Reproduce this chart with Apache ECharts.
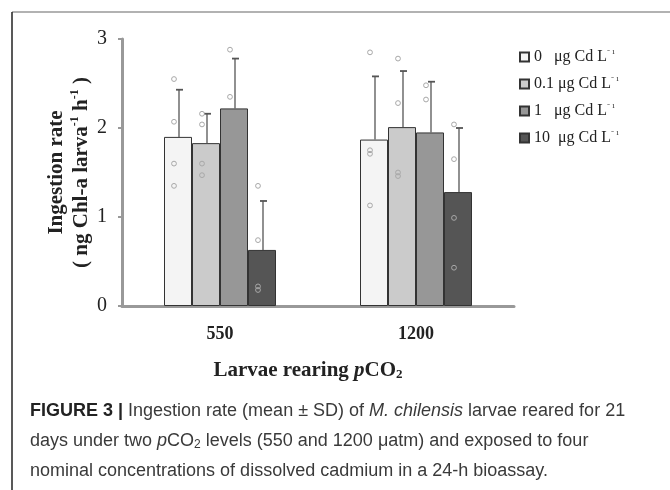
<!DOCTYPE html>
<html>
<head>
<meta charset="utf-8">
<script src="https://cdn.jsdelivr.net/npm/echarts@6/dist/echarts.min.js"></script>
<style>
  html, body { margin: 0; padding: 0; background: #fff; }
  #chart { width: 670px; height: 490px; }
</style>
</head>
<body>
<div id="chart"></div>
<script>
// data
const categories = ['550', '1200'];
const cdLevels = ['0   μg Cd L', '0.1 μg Cd L', '1   μg Cd L', '10  μg Cd L'];
const barColors = ['#f4f4f4', '#cbcbcb', '#979797', '#555555'];

// mean per Cd level, for [550, 1200]
const mean0 = [1.90, 1.87];
const mean01 = [1.83, 2.01];
const mean1 = [2.22, 1.95];
const mean10 = [0.63, 1.28];

// mean + SD (top of error bar)
const sdTop0 = [2.43, 2.58];
const sdTop01 = [2.16, 2.64];
const sdTop1 = [2.78, 2.52];
const sdTop10 = [1.18, 2.00];

// individual replicates (open circles)
const reps0 = [[2.55, 2.07, 1.60, 1.35], [2.85, 1.75, 1.71, 1.13]];
const reps01 = [[2.16, 2.04, 1.60, 1.47], [2.78, 2.28, 1.50, 1.46]];
const reps1 = [[2.88, 2.35], [2.48, 2.32]];
const reps10 = [[1.35, 0.74, 0.22, 0.18], [2.04, 1.65, 0.99, 0.43]];

const yTicks = [0, 1, 2, 3];

const means = [mean0, mean01, mean1, mean10];
const sdTops = [sdTop0, sdTop01, sdTop1, sdTop10];
const reps = [reps0, reps01, reps1, reps10];

const BAR_W = 28;
const serif = '"Liberation Serif", "Times New Roman", serif';
const sans = '"Liberation Sans", Arial, sans-serif';

// error bar data: [cat, level, mean, top]
const errData = [];
const pointData = [];
means.forEach(function (m, g) {
  m.forEach(function (v, c) {
    errData.push([c, g, v, sdTops[g][c]]);
    reps[g][c].forEach(function (r) {
      pointData.push([c, g, r]);
    });
  });
});

const chart = echarts.init(document.getElementById('chart'));

const barSeries = cdLevels.map(function (name, g) {
  return {
    name: name,
    type: 'bar',
    barWidth: BAR_W,
    barGap: '0%',
    data: means[g],
    itemStyle: { color: barColors[g], borderColor: '#333', borderWidth: 1 },
    z: 2
  };
});

const option = {
  animation: false,
  backgroundColor: '#fff',
  grid: { left: 122, right: 156, top: 39, bottom: 184 },
  legend: {
    orient: 'vertical',
    left: 514,
    top: 44,
    icon: 'rect',
    itemWidth: 9,
    itemHeight: 9,
    itemGap: 11,
    data: cdLevels,
    textStyle: {
      fontFamily: serif,
      fontSize: 16,
      color: '#222',
      rich: { sup: { fontFamily: serif, fontSize: 9, verticalAlign: 'top', color: '#222' } }
    },
    formatter: function (n) { return n + '{sup|⁻ ¹}'; }
  },
  xAxis: {
    type: 'category',
    data: categories,
    axisLine: { lineStyle: { color: '#999', width: 3 } },
    axisTick: { show: false },
    axisLabel: { fontFamily: serif, fontWeight: 'bold', fontSize: 18, color: '#222', margin: 19 },
    name: 'Larvae rearing {i|p}CO{sub|2}',
    nameLocation: 'middle',
    nameGap: 54,
    nameMoveOverlap: false,
    nameTextStyle: {
      fontFamily: serif, fontWeight: 'bold', fontSize: 21, color: '#222',
      padding: [0, 20, 0, 0],
      rich: {
        i: { fontFamily: serif, fontWeight: 'bold', fontStyle: 'italic', fontSize: 21, color: '#222' },
        sub: { fontFamily: serif, fontWeight: 'bold', fontSize: 13, verticalAlign: 'bottom', padding: [8, 0, 0, 0], color: '#222' }
      }
    }
  },
  yAxis: {
    type: 'value',
    min: 0,
    max: 3,
    interval: 1,
    splitLine: { show: false },
    axisLine: { show: true, lineStyle: { color: '#999', width: 3 } },
    axisTick: { show: true, length: 4, lineStyle: { color: '#999', width: 2 } },
    axisLabel: {
      fontFamily: serif, fontSize: 20, color: '#222', margin: 15,
      formatter: function (v) { return yTicks.indexOf(v) >= 0 ? String(v) : ''; }
    },
    name: 'Ingestion rate\n( ng Chl-a larva{sup|-1} h{sup|-1} )',
    nameLocation: 'middle',
    nameGap: 28,
    nameMoveOverlap: false,
    nameTextStyle: {
      fontFamily: serif, fontWeight: 'bold', fontSize: 21, color: '#222', lineHeight: 25,
      rich: {
        sup: { fontFamily: serif, fontWeight: 'bold', fontSize: 12, verticalAlign: 'top', color: '#222' }
      }
    }
  },
  series: barSeries.concat([
    {
      type: 'custom',
      name: 'sd',
      data: errData,
      encode: { x: 0, y: 3 },
      z: 3,
      renderItem: function (params, api) {
        const c = api.value(0), g = api.value(1);
        const base = api.coord([c, api.value(2)]);
        const top = api.coord([c, api.value(3)]);
        const x = base[0] + (g - 1.5) * BAR_W + 1;
        return {
          type: 'group',
          children: [
            { type: 'line', shape: { x1: x, y1: base[1], x2: x, y2: top[1] }, style: { stroke: '#555', lineWidth: 1.3 } },
            { type: 'line', shape: { x1: x - 3, y1: top[1], x2: x + 4, y2: top[1] }, style: { stroke: '#555', lineWidth: 1.8 } }
          ]
        };
      }
    },
    {
      type: 'custom',
      name: 'reps',
      data: pointData,
      encode: { x: 0, y: 2 },
      z: 4,
      renderItem: function (params, api) {
        const c = api.value(0), g = api.value(1);
        const p = api.coord([c, api.value(2)]);
        return {
          type: 'circle',
          shape: { cx: p[0] + (g - 1.5) * BAR_W - 4, cy: p[1], r: 2.4 },
          style: { fill: 'none', stroke: '#a8a8a8', lineWidth: 1 }
        };
      }
    }
  ]),
  graphic: [
    { type: 'line', shape: { x1: 12, y1: 12, x2: 670, y2: 12 }, style: { stroke: '#999', lineWidth: 1.5 } },
    { type: 'line', shape: { x1: 12, y1: 12, x2: 12, y2: 490 }, style: { stroke: '#222', lineWidth: 1.5 } },
    {
      type: 'text', left: 30, top: 402,
      style: {
        text: '{b|FIGURE 3 |} Ingestion rate (mean ± SD) of {i|M. chilensis} larvae reared for 21',
        font: '18px ' + sans, fill: '#3a3a3a',
        rich: {
          b: { fontWeight: 'bold', fontSize: 18, fontFamily: sans, fill: '#222' },
          i: { fontStyle: 'italic', fontSize: 18, fontFamily: sans, fill: '#3a3a3a' }
        }
      }
    },
    {
      type: 'text', left: 30, top: 432,
      style: {
        text: 'days under two {i|p}CO{sub|2} levels (550 and 1200 μatm) and exposed to four',
        font: '18px ' + sans, fill: '#3a3a3a',
        rich: {
          i: { fontStyle: 'italic', fontSize: 18, fontFamily: sans, fill: '#3a3a3a' },
          sub: { fontSize: 12, fontFamily: sans, verticalAlign: 'bottom', padding: [7, 0, 0, 0], fill: '#3a3a3a' }
        }
      }
    },
    {
      type: 'text', left: 30, top: 462,
      style: {
        text: 'nominal concentrations of dissolved cadmium in a 24-h bioassay.',
        font: '18px ' + sans, fill: '#3a3a3a'
      }
    }
  ]
};

chart.setOption(option);
</script>
</body>
</html>
